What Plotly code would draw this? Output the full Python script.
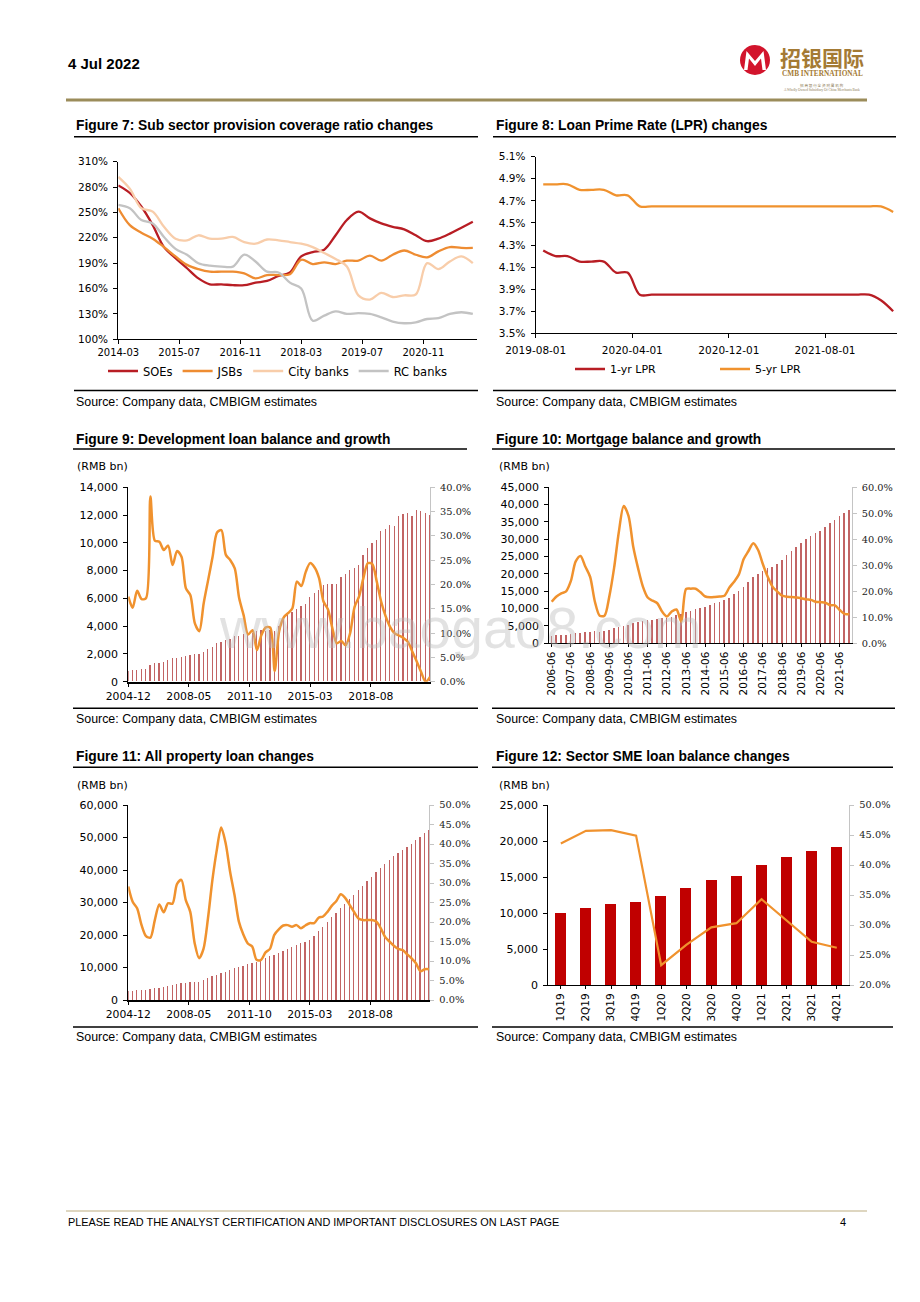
import plotly.graph_objects as go
import pandas as pd

# ======================= DATA =======================
# Figure 7: Sub sector provision coverage ratio (%), quarterly 2014-03 .. 2021-12
f7_dates = pd.date_range("2014-03-01", periods=32, freq="3MS")
f7_soe = [282, 273, 257, 235, 209, 196, 184, 172, 165, 165, 164, 164, 167, 169, 175, 179,
          198, 203, 206, 223, 241, 251, 243, 237, 233, 230, 223, 216, 219, 225, 232, 239]
f7_jsb = [255, 235, 226, 219, 209, 198, 188, 183, 180, 180, 180, 178, 172, 176, 176, 177,
          194, 189, 191, 189, 193, 193, 199, 193, 200, 205, 200, 197, 204, 209, 208, 208]
f7_city = [292, 278, 255, 251, 233, 219, 217, 223, 219, 219, 221, 215, 213, 218, 217, 215,
           213, 209, 202, 195, 186, 152, 147, 155, 150, 152, 153, 190, 183, 192, 198, 190]
f7_rc = [259, 255, 241, 237, 221, 207, 200, 190, 187, 186, 186, 200, 192, 180, 179, 167,
         160, 122, 128, 133, 130, 131, 130, 126, 121, 119, 120, 124, 125, 130, 132, 130]
f7_ticks = ["2014-03", "2015-07", "2016-11", "2018-03", "2019-07", "2020-11"]

# Figure 8: LPR (%), monthly fixings 2019-08 .. 2022-01
f8_dates = pd.date_range("2019-08-01", periods=30, freq="MS") + pd.Timedelta(days=19)
f8_1yr = [4.25, 4.20, 4.20, 4.15, 4.15, 4.15, 4.05, 4.05] + [3.85] * 20 + [3.80, 3.70]
f8_5yr = [4.85, 4.85, 4.85, 4.80, 4.80, 4.80, 4.75, 4.75] + [4.65] * 20 + [4.65, 4.60]
f8_ticks = ["2019-08-01", "2020-04-01", "2020-12-01", "2021-08-01"]

# Figure 9: Development loan balance (RMB bn) and growth (%), quarterly 2004-12 .. 2021-12
f9_dates = pd.date_range("2004-12-01", periods=69, freq="3MS")
f9_bal = [780, 800, 830, 860, 900, 1200, 1300, 1360, 1430, 1560,
          1680, 1720, 1780, 1800, 1900, 1970, 2000, 2150, 2300, 2450,
          2750, 2830, 3000, 3070, 3240, 3300, 3380, 3450, 3500, 3620,
          3700, 3650, 3700, 3650, 4000, 4500, 4800, 5000, 5200, 5400,
          5600, 6050, 6350, 6550, 6950, 7000, 7000, 7050, 7500, 7750,
          8050, 8200, 8400, 9100, 9600, 10000, 10200, 10800, 11000, 11250,
          11200, 11900, 12050, 12150, 11900, 12350, 12250, 12150, 12000]
f9_growth = [17.5, 15.2, 18.7, 17.0, 17.2, 38.1, 29.0, 28.8, 27.1, 28.0,
             24.0, 26.9, 25.7, 19.2, 17.8, 12.0, 10.4, 16.1, 20.9, 25.7,
             30.7, 31.2, 26.1, 25.0, 23.3, 17.2, 13.7, 9.7, 10.6, 6.5,
             9.6, 11.2, 11.1, 2.2, 10.4, 13.2, 14.1, 15.1, 20.6, 19.7,
             22.6, 24.4, 23.5, 21.3, 16.5, 14.9, 11.0, 7.9, 8.4, 7.5,
             10.0, 15.4, 17.5, 21.3, 24.4, 24.2, 20.6, 16.5, 13.5, 11.3,
             10.0, 9.5, 9.0, 8.2, 6.2, 4.2, 2.0, 0.0, 1.0]
f9_ticks = ["2004-12", "2008-05", "2011-10", "2015-03", "2018-08"]

# Figure 10: Mortgage balance (RMB bn) and growth (%), quarterly 2006-06 .. 2021-12
f10_q = list(pd.date_range("2006-06-01", periods=63, freq="3MS").strftime("%Y-%m"))
f10_bal = [2100, 2200, 2300, 2450, 2600, 2800, 3000, 3150, 3300, 3350,
           3300, 3400, 3800, 4300, 4700, 5000, 5300, 5700, 6100, 6300,
           6500, 6700, 6900, 7100, 7300, 7600, 8000, 8300, 8800, 9200,
           9700, 10100, 10500, 10900, 11400, 11900, 12400, 13100, 14000, 15000,
           16200, 17500, 19000, 20000, 20800, 21500, 22000, 22800, 23800, 25300,
           26400, 27600, 28800, 29900, 30800, 31600, 32400, 33500, 34600, 35600,
           36600, 37500, 38400]
f10_growth = [16.0, 18.0, 19.2, 20.0, 24.0, 31.5, 33.6, 29.5, 25.6, 16.0,
              10.6, 10.6, 18.0, 29.0, 43.0, 52.8, 49.0, 37.0, 28.8, 21.8,
              17.6, 16.4, 15.4, 12.2, 10.3, 12.2, 13.0, 8.3, 20.9, 21.0,
              21.0, 19.6, 18.0, 17.7, 17.8, 18.0, 18.3, 21.4, 23.7, 26.5,
              32.4, 35.5, 38.5, 35.9, 30.4, 25.6, 21.8, 19.9, 18.3, 17.9,
              17.8, 17.6, 17.3, 16.9, 16.7, 16.0, 15.8, 15.6, 14.7, 14.6,
              12.8, 11.3, 11.3]
f10_ticks = [q for q in f10_q if q.endswith("-06")]

# Figure 11: All property loans (RMB bn) and growth (%), quarterly 2004-12 .. 2021-12
f11_dates = pd.date_range("2004-12-01", periods=69, freq="3MS")
f11_bal = [2700, 2850, 2950, 3050, 3200, 3400, 3600, 3800, 4000, 4300,
           4600, 4900, 5100, 5300, 5400, 5500, 5600, 6100, 6700, 7300,
           7800, 8200, 8600, 9100, 9700, 10100, 10500, 11000, 11300, 11800,
           12300, 12800, 13400, 13900, 14500, 15000, 15600, 16200, 16800, 17400,
           17900, 18500, 19800, 21200, 22600, 24000, 25400, 26800, 28200, 29600,
           31000, 32400, 33700, 35100, 36500, 37900, 39300, 40600, 41800, 43000,
           44200, 45300, 46300, 47200, 48100, 49200, 50300, 51400, 52300]
f11_growth = [29.1, 25.2, 23.5, 19.2, 16.4, 16.0, 20.5, 24.5, 22.5, 24.8,
              24.7, 29.7, 30.8, 25.6, 22.6, 14.5, 10.7, 13.1, 20.9, 30.8,
              38.5, 44.2, 40.2, 32.9, 26.9, 20.1, 16.8, 14.5, 13.7, 10.3,
              10.3, 12.2, 13.1, 16.7, 18.1, 19.1, 19.2, 18.8, 19.2, 18.4,
              19.1, 19.7, 19.7, 21.1, 21.4, 22.6, 24.2, 25.4, 27.1, 26.2,
              24.4, 22.6, 20.9, 20.5, 20.5, 20.5, 20.1, 18.5, 16.2, 15.0,
              13.9, 13.1, 12.8, 11.7, 10.7, 9.4, 7.4, 7.9, 7.9]
f11_ticks = ["2004-12", "2008-05", "2011-10", "2015-03", "2018-08"]

# Figure 12: Sector SME loan balance (RMB bn) and growth (%)
f12_q = ["1Q19", "2Q19", "3Q19", "4Q19", "1Q20", "2Q20", "3Q20", "4Q20",
         "1Q21", "2Q21", "3Q21", "4Q21"]
f12_bal = [10000, 10650, 11200, 11580, 12360, 13520, 14580, 15090, 16670, 17730, 18610, 19120]
f12_growth = [43.6, 45.7, 45.8, 44.9, 23.3, 26.7, 29.6, 30.3, 34.3, 30.7, 27.2, 26.2]

# ======================= STYLE / LAYOUT HELPERS =======================
OFF = 8                      # page body margin of the html page
W, H = 920 - 2 * OFF, 1302 - 2 * OFF
def px(x): return (x - OFF) / W
def py(y): return 1 - (y - OFF) / H
def dx(a, b): return [px(a), px(b)]
def dy(top, bottom): return [py(bottom), py(top)]

TF = "DejaVu Sans"
SF = "DejaVu Serif"
PF = "Liberation Sans, Arial, sans-serif"
DRED = "#B81D24"
ORANGE = "#F0922E"
BARRED = "rgba(170,40,40,0.72)"

def yleft(dom, anchor, rng, dtick, fmt=",d", suffix="", size=10.5):
    return dict(domain=dom, anchor=anchor, range=rng, dtick=dtick, tick0=rng[0],
                tickformat=fmt, ticksuffix=suffix, showgrid=False, zeroline=False,
                showline=True, linecolor="#000", linewidth=1.2, ticks="outside",
                ticklen=4, tickwidth=1, tickcolor="#000", ticklabelstandoff=3,
                automargin=False,
                tickfont=dict(family=TF, size=size, color="#000"), fixedrange=True)

def yright(over, anchor, rng, dtick):
    return dict(overlaying=over, anchor=anchor, side="right", range=rng, dtick=dtick,
                tick0=rng[0], tickformat=".1f", ticksuffix="%", showgrid=False,
                zeroline=False, showline=True, linecolor="#C4C4C4", linewidth=1.2,
                ticks="outside", ticklen=4, tickcolor="#C4C4C4", ticklabelstandoff=3,
                automargin=False,
                tickfont=dict(family=SF, size=9.8, color="#222"), fixedrange=True)

def xaxis(dom, anchor, size=10.5, lw=1.2, **kw):
    d = dict(domain=dom, anchor=anchor, showgrid=False, zeroline=False, showline=True,
             linecolor="#000", linewidth=lw, ticks="outside", ticklen=4, tickcolor="#000",
             automargin=False,
             tickfont=dict(family=TF, size=size, color="#000"), fixedrange=True)
    d.update(kw)
    return d

fig = go.Figure()

# ---- Figure 7
for name, vals, col in [("SOEs", f7_soe, DRED), ("JSBs", f7_jsb, "#EE8C32"),
                        ("City banks", f7_city, "#F8CDAA"), ("RC banks", f7_rc, "#C3C3C3")]:
    fig.add_trace(go.Scatter(x=f7_dates, y=vals, name=name, mode="lines",
                             line=dict(color=col, width=2.3, shape="spline"),
                             xaxis="x", yaxis="y", legend="legend"))
# ---- Figure 8
fig.add_trace(go.Scatter(x=f8_dates, y=f8_1yr, name="1-yr LPR", mode="lines",
                         line=dict(color=DRED, width=2.3, shape="spline"),
                         xaxis="x2", yaxis="y2", legend="legend2"))
fig.add_trace(go.Scatter(x=f8_dates, y=f8_5yr, name="5-yr LPR", mode="lines",
                         line=dict(color=ORANGE, width=2.3, shape="spline"),
                         xaxis="x2", yaxis="y2", legend="legend2"))
# ---- Figure 9
fig.add_trace(go.Bar(x=f9_dates, y=f9_bal, width=2.3e9, marker=dict(color=BARRED, line_width=0),
                     xaxis="x3", yaxis="y3", showlegend=False))
fig.add_trace(go.Scatter(x=f9_dates, y=f9_growth, mode="lines",
                         line=dict(color=ORANGE, width=2.5, shape="spline", smoothing=0.8),
                         xaxis="x3", yaxis="y4", showlegend=False))
# ---- Figure 10
fig.add_trace(go.Bar(x=f10_q, y=f10_bal, width=0.32, marker=dict(color=BARRED, line_width=0),
                     xaxis="x4", yaxis="y5", showlegend=False))
fig.add_trace(go.Scatter(x=f10_q, y=f10_growth, mode="lines",
                         line=dict(color=ORANGE, width=2.5, shape="spline", smoothing=0.8),
                         xaxis="x4", yaxis="y6", showlegend=False))
# ---- Figure 11
fig.add_trace(go.Bar(x=f11_dates, y=f11_bal, width=2.3e9, marker=dict(color=BARRED, line_width=0),
                     xaxis="x5", yaxis="y7", showlegend=False))
fig.add_trace(go.Scatter(x=f11_dates, y=f11_growth, mode="lines",
                         line=dict(color=ORANGE, width=2.5, shape="spline", smoothing=0.8),
                         xaxis="x5", yaxis="y8", showlegend=False))
# ---- Figure 12
fig.add_trace(go.Bar(x=f12_q, y=f12_bal, width=0.44, marker=dict(color="#C00000", line_width=0),
                     xaxis="x6", yaxis="y9", showlegend=False))
fig.add_trace(go.Scatter(x=f12_q, y=f12_growth, mode="lines",
                         line=dict(color=ORANGE, width=2.2),
                         xaxis="x6", yaxis="y10", showlegend=False))

layout = dict(
    width=W, height=H, autosize=False, margin=dict(l=0, r=0, t=0, b=0, pad=0),
    paper_bgcolor="white", plot_bgcolor="white", bargap=0,
    xaxis=xaxis(dx(118.3, 476.7), "y", size=10, type="date",
                range=["2014-03-01", "2022-01-01"],
                tickvals=[t + "-01" for t in f7_ticks], ticktext=f7_ticks),
    yaxis=yleft(dy(161.7, 339.3), "x", [100, 310], 30, fmt="d", suffix="%"),
    xaxis2=xaxis(dx(535.7, 896.7), "y2", size=10.5, type="date",
                 range=["2019-08-01", "2022-01-29"], tickvals=f8_ticks, ticktext=f8_ticks,
                 ticklabelstandoff=3),
    yaxis2=yleft(dy(156.7, 333.3), "x2", [3.5, 5.1], 0.2, fmt=".1f", suffix="%"),
    xaxis3=xaxis(dx(128.3, 430), "y3", size=10.8, lw=1.8, type="date",
                 range=["2004-12-01", "2021-12-01"],
                 tickvals=[t + "-01" for t in f9_ticks], ticktext=f9_ticks, ticklen=3),
    yaxis3=yleft(dy(487.3, 681.7), "x3", [0, 14000], 2000, size=11),
    yaxis4=yright("y3", "x3", [0, 40], 5),
    xaxis4=xaxis(dx(549.3, 851.7), "y5", size=10.5, type="category",
                 range=[-0.5, 62.5], tickvals=f10_ticks, ticktext=f10_ticks,
                 tickangle=-90, ticklen=3),
    yaxis5=yleft(dy(487.3, 643.3), "x4", [0, 45000], 5000, size=11),
    yaxis6=yright("y5", "x4", [0, 60], 10),
    xaxis5=xaxis(dx(128.3, 429.3), "y7", size=10.8, lw=1.8, type="date",
                 range=["2004-12-01", "2021-12-01"],
                 tickvals=[t + "-01" for t in f11_ticks], ticktext=f11_ticks, ticklen=3),
    yaxis7=yleft(dy(805, 1000), "x5", [0, 60000], 10000, size=11),
    yaxis8=yright("y7", "x5", [0, 50], 5),
    xaxis6=xaxis(dx(548.3, 849.3), "y9", size=10.5, type="category",
                 range=[-0.5, 11.5], tickangle=-90, ticklen=3),
    yaxis9=yleft(dy(805, 985), "x6", [0, 25000], 5000, size=11),
    yaxis10=yright("y9", "x6", [20, 50], 5),
    legend=dict(x=px(103), y=py(371), xanchor="left", yanchor="middle",
                orientation="h", font=dict(family=TF, size=11.5, color="#000"),
                bgcolor="rgba(0,0,0,0)", borderwidth=0, itemwidth=30),
    legend2=dict(x=px(570), y=py(369), xanchor="left", yanchor="middle",
                 orientation="h", font=dict(family=TF, size=11, color="#000"),
                 bgcolor="rgba(0,0,0,0)", borderwidth=0, itemwidth=30,
                 entrywidth=100, entrywidthmode="pixels"),
)
fig.update_layout(**layout)

# ======================= PAGE DECORATION =======================
shapes = []
def hline(y, x0, x1, color="#000", width=1.5):
    shapes.append(dict(type="line", xref="paper", yref="paper", x0=px(x0), x1=px(x1),
                       y0=py(y), y1=py(y), line=dict(color=color, width=width)))

hline(100, 66, 867, "#9B8C5A", 3)
hline(1211, 66, 867, "#BDAE82", 1.2)
for y in (136.7, 390.5):
    hline(y, 74, 478)
    hline(y, 493, 896)
for y in (449, 708.3):
    hline(y, 73, 467 if y == 449 else 478)
    hline(y, 492, 895)
for y in (767.3, 1027):
    hline(y, 73, 478)
    hline(y, 492, 893)

# logo
shapes.append(dict(type="circle", xref="paper", yref="paper", x0=px(740), x1=px(770),
                   y0=py(75), y1=py(45), fillcolor="#D2142C", line=dict(width=0)))
mpts = [(744, 70), (746.5, 51), (755, 61), (763.5, 51), (766, 70), (762.5, 70),
        (761, 58.5), (755, 66), (749, 58.5), (747.5, 70)]
path = "M " + " L ".join(f"{px(a):.5f},{py(b):.5f}" for a, b in mpts) + " Z"
shapes.append(dict(type="path", xref="paper", yref="paper", path=path,
                   fillcolor="white", line=dict(width=0)))

ann = []
def text(x, y, s, size=12, family=PF, color="#000", xanchor="left", **kw):
    ann.append(dict(x=px(x), y=py(y), xref="paper", yref="paper", text=s, showarrow=False,
                    xanchor=xanchor, yanchor="middle",
                    font=dict(family=family, size=size, color=color), **kw))

text(66, 64, "<b>4 Jul 2022</b>", size=15)
text(822, 57, "<b>招银国际</b>", size=21, family="Noto Sans CJK SC", color="#A47A34", xanchor="center")
text(822, 73.5, "<b>CMB INTERNATIONAL</b>", size=7.3, family="Liberation Serif", color="#A47A34", xanchor="center")
text(822, 85.5, "招 商 银 行 全 资 附 属 机 构", size=3.6, family="Noto Sans CJK SC", color="#8C7A55", xanchor="center")
text(822, 90.5, "A Wholly Owned Subsidiary Of China Merchants Bank", size=3.4, family="Liberation Serif", color="#8C7A55", xanchor="center")

titles = [(74, 126, "Figure 7: Sub sector provision coverage ratio changes"),
          (494, 126, "Figure 8: Loan Prime Rate (LPR) changes"),
          (74, 439, "Figure 9: Development loan balance and growth"),
          (494, 439, "Figure 10: Mortgage balance and growth"),
          (74, 757, "Figure 11: All property loan changes"),
          (494, 757, "Figure 12: Sector SME loan balance changes")]
for x, y, s in titles:
    text(x, y, f"<b>{s}</b>", size=13.8)
for x, y in [(74, 401.5), (494, 401.5), (74, 718.5), (494, 718.5), (74, 1036.5), (494, 1036.5)]:
    text(x, y, "Source: Company data, CMBIGM estimates", size=12.4)
for x, y in [(75, 466.5), (496.5, 466.5), (75, 785), (496.5, 785)]:
    text(x, y, "(RMB bn)", size=11, family=TF)

text(66, 1222, "PLEASE READ THE ANALYST CERTIFICATION AND IMPORTANT DISCLOSURES ON LAST PAGE", size=10.9)
text(838, 1222, "4", size=11)

# watermark
text(460, 628, "www.baogao8.com", size=57, color="rgba(185,185,185,0.42)", xanchor="center")

fig.update_layout(shapes=shapes, annotations=ann)
fig.write_html("out.html")
